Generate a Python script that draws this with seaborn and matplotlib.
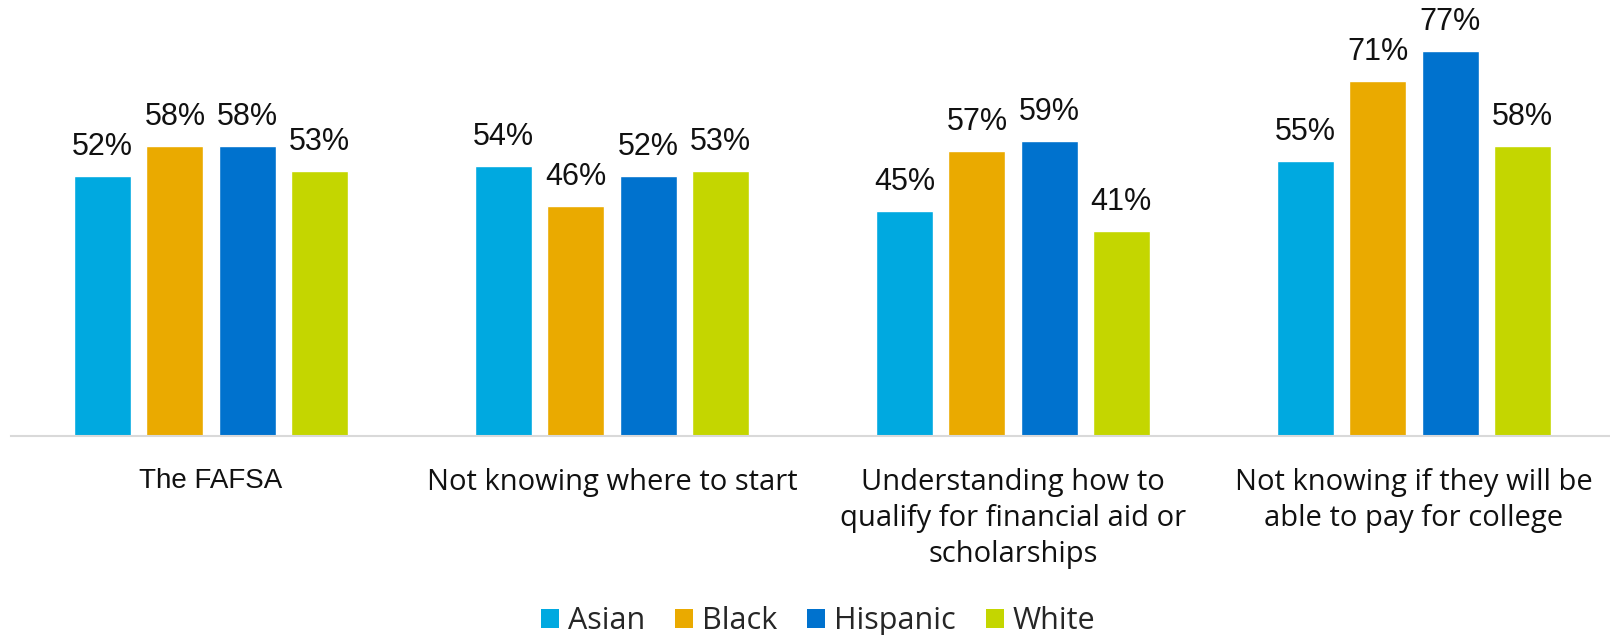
import matplotlib
matplotlib.use("Agg")
import matplotlib.pyplot as plt
import seaborn as sns
import pandas as pd
from matplotlib.patches import Patch

# Survey categories (x axis) and the four groups
categories = [
    "The FAFSA",
    "Not knowing where to start",
    "Understanding how to\nqualify for financial aid or\nscholarships",
    "Not knowing if they will be\nable to pay for college",
]
groups = ["Asian", "Black", "Hispanic", "White"]

# Percent of respondents per group, in category order
asian = [52, 54, 45, 55]
black = [58, 46, 57, 71]
hispanic = [58, 52, 59, 77]
white = [53, 53, 41, 58]

colors = ["#00A9E0", "#EAAA00", "#0072CE", "#C4D600"]

series = {"Asian": asian, "Black": black, "Hispanic": hispanic, "White": white}
rows = []
for g in groups:
    for c, v in zip(categories, series[g]):
        rows.append({"category": c, "group": g, "value": v})
df = pd.DataFrame(rows)

sns.set_theme(style="white")
plt.rcParams["font.family"] = ["Open Sans", "DejaVu Sans"]

W, H = 1610, 635
fig = plt.figure(figsize=(W / 100, H / 100), dpi=100)
ax = fig.add_axes([10.5 / W, (H - 436) / H, 1604 / W, 400 / H])

sns.barplot(
    data=df, x="category", y="value", hue="group",
    order=categories, hue_order=groups, palette=colors,
    width=0.72, gap=0.21, saturation=1, errorbar=None, legend=False, ax=ax,
)

ax.set_ylim(0, 80)
ax.set_xlim(-0.5, 3.5)
ax.set_xlabel("")
ax.set_ylabel("")
ax.set_yticks([])
for side in ["left", "right", "top"]:
    ax.spines[side].set_visible(False)
ax.spines["bottom"].set_color("#D9D9D9")
ax.spines["bottom"].set_linewidth(1.5)
ax.tick_params(axis="x", length=0, pad=23, labelsize=21)

for i, lbl in enumerate(ax.get_xticklabels()):
    lbl.set_verticalalignment("top")
    lbl.set_linespacing(1.32)
    lbl.set_color("#111111")
    if i == 0:
        lbl.set_family(["Liberation Sans", "DejaVu Sans"])
        lbl.set_fontsize(20)

for cont in ax.containers:
    anns = ax.bar_label(cont, fmt="{:.0f}%", padding=15,
                        fontsize=22, color="#111111",
                        family=["Liberation Sans", "DejaVu Sans"])
    for a in anns:
        a.set_verticalalignment("baseline")

handles = [Patch(facecolor=c, edgecolor="none") for c in colors]
fig.legend(handles, groups, loc="center", bbox_to_anchor=(818 / W, 1 - 621 / H),
           ncol=4, frameon=False, fontsize=22, handlelength=0.59, handleheight=0.59,
           handletextpad=0.29, columnspacing=0.98)

fig.savefig("out.png", dpi=100, facecolor="white")
